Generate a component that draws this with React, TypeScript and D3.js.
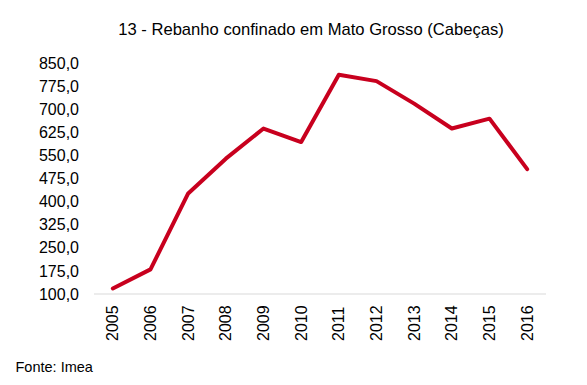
import React from "react";
import * as d3 from "d3";

const years = ["2005","2006","2007","2008","2009","2010","2011","2012","2013","2014","2015","2016"];
const herd = [118, 180, 427, 540, 638, 594, 813, 792, 719, 638, 670, 506];
const yTicks = [100, 175, 250, 325, 400, 475, 550, 625, 700, 775, 850];

const W = 587, H = 385;
const font = "Liberation Sans, Arial, Helvetica, sans-serif";

export default function App() {
  const x = d3.scaleBand<string>().domain(years).range([94, 546]);
  const y = d3.scaleLinear().domain([100, 850]).range([294, 63.3]);
  const line = d3.line<number>()
    .x((_, i) => (x(years[i]) as number) + x.bandwidth() / 2)
    .y((d) => y(d));
  const fmt = (v: number) => v.toFixed(1).replace(".", ",");
  return (
    <svg width={W} height={H} style={{ position: "absolute", left: 0, top: 0, background: "#fff" }} fontFamily={font}>
      <text x={311} y={35} textAnchor="middle" fontSize={16.6} fill="#000">13 - Rebanho confinado em Mato Grosso (Cabeças)</text>
      {yTicks.map((t) => (
        <text key={t} x={79} y={y(t)} dy="0.35em" textAnchor="end" fontSize={16} fill="#000">{fmt(t)}</text>
      ))}
      <line x1={94} x2={546} y1={y(100)} y2={y(100)} stroke="#d9d9d9" strokeWidth={1} />
      {years.map((yr) => {
        const cx = (x(yr) as number) + x.bandwidth() / 2;
        return (
          <text key={yr} transform={`translate(${cx},${341}) rotate(-90)`} dy="0.35em" textAnchor="start" fontSize={16} fill="#000">{yr}</text>
        );
      })}
      <path d={line(herd) || ""} fill="none" stroke="#c8001e" strokeWidth={4} strokeLinejoin="round" strokeLinecap="round" />
      <text x={15.5} y={372} fontSize={14.5} fill="#000">Fonte: Imea</text>
    </svg>
  );
}
